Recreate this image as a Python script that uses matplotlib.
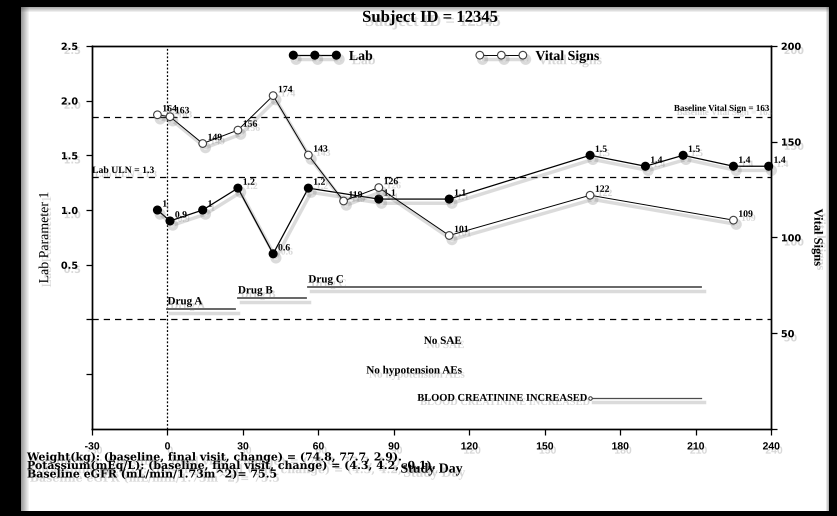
import numpy as np
import matplotlib
matplotlib.use("Agg")
import matplotlib.pyplot as plt
import matplotlib.patheffects as pe
from matplotlib.patches import Rectangle
from PIL import Image

# ---- data -------------------------------------------------------------
subject_id = "12345"

lab_days = [-4, 1, 14, 28, 42, 56, 84, 112, 168, 190, 205, 225, 239]
lab_values = [1.0, 0.9, 1.0, 1.2, 0.6, 1.2, 1.1, 1.1, 1.5, 1.4, 1.5, 1.4, 1.4]

vs_days = [-4, 1, 14, 28, 42, 56, 70, 84, 112, 168, 225]
vs_values = [164, 163, 149, 156, 174, 143, 119, 126, 101, 122, 109]

lab_uln = 1.3
baseline_vs = 163

drug_names = ["Drug A", "Drug B", "Drug C"]
drug_start = [0, 28, 56]
drug_end = [27, 55, 212]
drug_level = [0.1, 0.2, 0.3]

ae_notes = ["No SAE", "No hypotension AEs"]
ae_name = "BLOOD CREATININE INCREASED"
ae_start = 168
ae_end = 212

footer_lines = [
    "Weight(kg): (baseline, final visit, change) = (74.8, 77.7, 2.9).",
    "Potassium(mEq/L): (baseline, final visit, change) = (4.3, 4.2, -0.1).",
    "Baseline eGFR (mL/min/1.73m^2)= 75.5",
]

x_ticks = [-30, 0, 30, 60, 90, 120, 150, 180, 210, 240]
lab_ticks = [-0.5, 0.0, 0.5, 1.0, 1.5, 2.0, 2.5]
lab_tick_labels = ["", "", "0.5", "1.0", "1.5", "2.0", "2.5"]
vs_ticks = [0, 50, 100, 150, 200]
vs_tick_labels = ["", "50", "100", "150", "200"]

# ---- styling helpers --------------------------------------------------
SERIF = ["Liberation Serif", "DejaVu Serif"]
WIDE_SERIF = ["DejaVu Serif"]
SANS = ["DejaVu Sans"]
NARROW_SANS = ["Liberation Sans", "DejaVu Sans"]
txt_shadow = [pe.withSimplePatchShadow(offset=(2, -3), shadow_rgbFace="0.45", alpha=0.28)]
line_shadow = [pe.SimpleLineShadow(offset=(2, -3), shadow_color="0.45", alpha=0.25, linewidth=2.5),
               pe.Normal()]

W, H = 837, 516
fig = plt.figure(figsize=(8.372, 5.162), dpi=100)
fig.patch.set_facecolor("white")


def px_rect(x, y, w, h, color, alpha=1.0):
    """Rectangle given in pixels from the top-left corner of the figure."""
    fig.patches.append(Rectangle((x / W, 1 - (y + h) / H), w / W, h / H,
                                 transform=fig.transFigure, facecolor=color,
                                 edgecolor="none", alpha=alpha, zorder=-5))


# black frame around the white panel, with a soft inner shade
x0, x1, y0, y1 = 21, 829, 7, 511
px_rect(0, 0, W, y0, "black")
px_rect(0, y1, W, H - y1, "black")
px_rect(0, 0, x0, H, "black")
px_rect(x1, 0, W - x1, H, "black")
for k in range(8):
    px_rect(x0 + k, y0, 1, y1 - y0, "0.3", 0.55 * (1 - k / 8))
for k in range(5):
    px_rect(x0, y0 + k, x1 - x0, 1, "0.3", 0.45 * (1 - k / 5))
for k in range(3):
    px_rect(x1 - 1 - k, y0, 1, y1 - y0, "0.3", 0.4 * (1 - k / 3))

ax = fig.add_axes([92 / W, 1 - 429 / H, (771 - 92) / W, (429 - 46) / H])
ax.patch.set_visible(False)
ax.set_xlim(-30, 240)
ax.set_ylim(-1.0, 2.5)
ax2 = ax.twinx()
ax2.set_ylim(0, 200)

for a in (ax, ax2):
    for s in a.spines.values():
        s.set_linewidth(1.0)
    a.tick_params(direction="out", length=4, width=0.9, labelsize=7)

ax.set_xticks(x_ticks)
ax.set_xticklabels([str(t) for t in x_ticks], fontfamily=NARROW_SANS, fontweight="bold",
                   fontsize=7.5)
ax.set_yticks(lab_ticks)
ax.set_yticklabels(lab_tick_labels, fontfamily=SANS, fontweight="bold")
ax2.set_yticks(vs_ticks)
ax2.set_yticklabels(vs_tick_labels, fontfamily=SANS, fontweight="bold")
ax.tick_params(axis="x", pad=5)
ax.tick_params(axis="y", pad=6)
ax2.tick_params(axis="y", pad=3)
for lbl in ax.get_xticklabels() + ax.get_yticklabels() + ax2.get_yticklabels():
    lbl.set_path_effects(txt_shadow)

# reference lines
ax.axhline(lab_uln, color="black", lw=0.9, ls=(0, (5, 4)), zorder=1)
ax2.axhline(baseline_vs, color="black", lw=0.9, ls=(0, (5, 4)), zorder=1)
ax.axhline(0.0, color="black", lw=0.9, ls=(0, (5, 4)), zorder=1)
ax.axvline(0, color="black", lw=0.9, ls=(0, (1.5, 1.5)), zorder=1)

ax.text(-30, lab_uln + 0.02, "Lab ULN = 1.3", fontsize=7, fontfamily=SERIF, fontweight="bold",
        ha="left", va="bottom", path_effects=txt_shadow)
ax2.text(239, baseline_vs + 2, "Baseline Vital Sign = 163", fontsize=6.5, fontfamily=SERIF,
         fontweight="bold", ha="right", va="bottom", path_effects=txt_shadow)

# lab series
lab_line, = ax.plot(lab_days, lab_values, color="black", lw=0.9, marker="o", ms=5.5,
                    mfc="black", mec="black", label="Lab", path_effects=line_shadow, zorder=4,
                    clip_on=False)
for d, v in zip(lab_days, lab_values):
    ax.annotate(f"{v:g}", (d, v), xytext=(3.5, 1), textcoords="offset points", fontsize=7,
                fontfamily=SERIF, fontweight="bold", ha="left", va="bottom",
                path_effects=txt_shadow, annotation_clip=False)

# vital signs series
vs_line, = ax2.plot(vs_days, vs_values, color="black", lw=0.7, marker="o", ms=5.5,
                    mfc="white", mec="0.25", mew=0.8, label="Vital Signs",
                    path_effects=line_shadow, zorder=4)
for d, v in zip(vs_days, vs_values):
    ax2.annotate(f"{v:g}", (d, v), xytext=(3.5, 1), textcoords="offset points", fontsize=7,
                 fontfamily=SERIF, fontweight="bold", ha="left", va="bottom",
                 path_effects=txt_shadow, annotation_clip=False)

# treatment periods
for name, s, e, lvl in zip(drug_names, drug_start, drug_end, drug_level):
    ax.plot([s, e], [lvl, lvl], color="0.35", lw=1.3, path_effects=line_shadow, zorder=2)
    ax.text(s, lvl + 0.02, name, fontsize=8, fontfamily=SERIF, fontweight="bold",
            ha="left", va="bottom", path_effects=txt_shadow)

# adverse event notes
for note, lvl in zip(ae_notes, [-0.2, -0.47]):
    ax.text(117, lvl, note, fontsize=8, fontfamily=SERIF, fontweight="bold",
            ha="right", va="center", path_effects=txt_shadow)
ax.plot([ae_start, ae_end], [-0.72, -0.72], color="0.3", lw=0.9, path_effects=line_shadow, zorder=2)
ax.plot([ae_start], [-0.72], marker="o", ms=2.5, mfc="white", mec="0.2", mew=0.7, zorder=3)
ax.text(ae_start - 1.5, -0.72, ae_name, fontsize=7.5, fontfamily=SERIF, fontweight="bold",
        ha="right", va="center", path_effects=txt_shadow)

# axis labels and title
ax.set_xlabel("Study Day", fontsize=10, fontfamily=SERIF, fontweight="bold", labelpad=8,
              path_effects=txt_shadow)
ax.set_ylabel("Lab Parameter 1", fontsize=10, fontfamily=SERIF, labelpad=7,
              path_effects=txt_shadow)
ax2.set_ylabel("Vital Signs", fontsize=9, fontfamily=SERIF, fontweight="bold", rotation=270,
               labelpad=16, path_effects=txt_shadow)
fig.text(430 / W, 1 - 18 / H, f"Subject ID = {subject_id}", fontsize=12, fontfamily=SERIF,
         fontweight="bold", ha="center", va="center", path_effects=txt_shadow)

# legend
leg = ax2.legend(handles=[lab_line, vs_line], loc="center left", bbox_to_anchor=(0.280, 0.972),
                 ncol=2, frameon=False, numpoints=3, handlelength=3.7, columnspacing=7.4,
                 borderpad=0, handletextpad=0.6,
                 prop={"family": SERIF, "weight": "bold", "size": 10})
for t in leg.get_texts():
    t.set_path_effects(txt_shadow)

# footer summary lines
for i, line in enumerate(footer_lines):
    fig.text(27 / W, 1 - (457 + 8.5 * i) / H, line, fontsize=7.9, fontfamily=WIDE_SERIF,
             fontweight="bold", ha="left", va="center", path_effects=txt_shadow)

# write an opaque RGB image
fig.canvas.draw()
rgb = np.asarray(fig.canvas.buffer_rgba())[..., :3].copy()
Image.fromarray(rgb).save("out.png")
